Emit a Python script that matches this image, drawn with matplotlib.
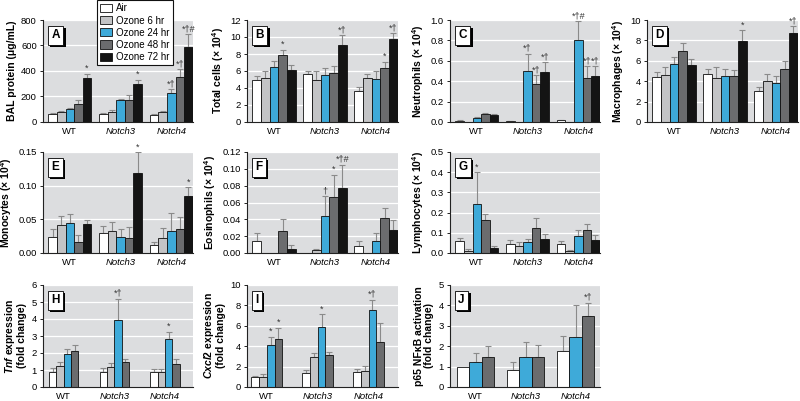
import numpy as np
import matplotlib
matplotlib.use('Agg')
import matplotlib.pyplot as plt
from matplotlib import font_manager
from matplotlib import patheffects
from matplotlib.patches import Patch

# condensed font if available
main_font = 'Liberation Sans'
try:
    font_manager.findfont('Liberation Sans Narrow', fallback_to_default=False)
    main_font = 'Liberation Sans Narrow'
except Exception:
    pass
narrow = main_font == 'Liberation Sans Narrow'

plt.rcParams['font.family'] = [main_font, 'DejaVu Sans']
plt.rcParams['mathtext.fontset'] = 'custom'
plt.rcParams['mathtext.it'] = main_font + ':italic:bold'
plt.rcParams['mathtext.rm'] = main_font + ':bold'

groups = ['WT', 'Notch3', 'Notch4']
series = ['Air', 'Ozone 6 hr', 'Ozone 24 hr', 'Ozone 48 hr', 'Ozone 72 hr']
colors = ['#ffffff', '#c3c4c6', '#3eaad9', '#6b6c6e', '#141414']

# panel A - BAL protein
bal_mean = [[65, 78, 105, 145, 345], [65, 80, 170, 175, 300], [55, 78, 228, 355, 588]]
bal_err = [[7, 6, 7, 25, 33], [7, 15, 10, 35, 30], [5, 7, 27, 60, 104]]
bal_marks = [(0, 4, '*'), (1, 4, '*'), (2, 2, '*†'), (2, 3, '*†'), (2, 4, '*†#')]

# panel B - total cells
cells_mean = [[4.9, 5.2, 6.45, 7.9, 6.1], [5.6, 4.9, 5.5, 5.8, 9.0], [3.7, 5.2, 5.0, 6.3, 9.8]]
cells_err = [[0.5, 0.8, 0.75, 0.6, 0.6], [0.4, 1.1, 0.8, 0.8, 1.2], [0.4, 0.5, 1.0, 0.8, 0.7]]
cells_marks = [(0, 3, '*'), (1, 4, '*†'), (2, 3, '*'), (2, 4, '*†')]

# panel C - neutrophils
neut_mean = [[0.01, 0, 0.04, 0.075, 0.07], [0.005, 0, 0.50, 0.37, 0.49], [0.015, 0, 0.80, 0.43, 0.45]]
neut_err = [[0.005, 0, 0.008, 0.012, 0.01], [0.003, 0, 0.17, 0.09, 0.10], [0.004, 0, 0.19, 0.12, 0.10]]
neut_marks = [(1, 2, '*†'), (1, 3, '*†'), (1, 4, '*†'), (2, 2, '*†#'), (2, 3, '*†'), (2, 4, '*†')]

# panel D - macrophages
mac_mean = [[4.4, 4.6, 5.7, 7.0, 5.6], [4.7, 4.3, 4.5, 4.5, 7.9], [3.05, 4.0, 3.8, 5.2, 8.7]]
mac_err = [[0.5, 0.8, 0.7, 0.7, 0.6], [0.5, 1.1, 0.7, 0.6, 1.1], [0.35, 0.7, 0.7, 0.8, 0.7]]
mac_marks = [(1, 4, '*'), (2, 4, '*†')]

# panel E - monocytes
mono_mean = [[0.024, 0.041, 0.044, 0.017, 0.043], [0.030, 0.033, 0.024, 0.023, 0.119], [0.012, 0.023, 0.033, 0.035, 0.084]]
mono_err = [[0.012, 0.014, 0.014, 0.010, 0.006], [0.010, 0.013, 0.011, 0.015, 0.031], [0.005, 0.014, 0.027, 0.018, 0.014]]
mono_marks = [(1, 4, '*'), (2, 4, '*')]

# panel F - eosinophils
eos_mean = [[0.014, 0, 0, 0.0265, 0.005], [0, 0.003, 0.044, 0.0665, 0.077], [0.008, 0, 0.014, 0.0415, 0.0275]]
eos_err = [[0.010, 0, 0, 0.0135, 0.004], [0, 0.002, 0.024, 0.0265, 0.028], [0.006, 0, 0.010, 0.0115, 0.012]]
eos_marks = [(1, 2, '†'), (1, 3, '*'), (1, 4, '*†#')]

# panel G - lymphocytes
lymph_mean = [[0.058, 0.008, 0.244, 0.162, 0.023], [0.046, 0.036, 0.053, 0.122, 0.068], [0.045, 0.012, 0.086, 0.112, 0.065]]
lymph_err = [[0.018, 0.010, 0.156, 0.033, 0.010], [0.017, 0.018, 0.016, 0.053, 0.024], [0.014, 0.004, 0.026, 0.033, 0.025]]
lymph_marks = [(0, 2, '*')]

# panel H - Tnf (Air, 6, 24, 48 hr)
tnf_mean = [[0.91, 1.23, 1.94, 2.14], [0.91, 1.19, 3.92, 1.45], [0.87, 0.89, 2.83, 1.35]]
tnf_err = [[0.19, 0.26, 0.30, 0.36], [0.19, 0.20, 1.28, 0.19], [0.16, 0.18, 0.42, 0.29]]
tnf_marks = [(1, 2, '*†'), (2, 2, '*')]

# panel I - Cxcl2 (Air, 6, 24, 48 hr)
cxcl_mean = [[0.98, 1.0, 4.14, 4.7], [1.4, 2.9, 5.9, 3.16], [1.5, 1.56, 7.56, 4.46]]
cxcl_err = [[0.12, 0.27, 0.81, 1.1], [0.3, 0.45, 1.23, 0.29], [0.26, 0.54, 1.01, 1.84]]
cxcl_marks = [(0, 2, '*'), (0, 3, '*'), (1, 2, '*'), (2, 2, '*†')]

# panel J - p65 NFkB (Air, 24, 48 hr)
p65_mean = [[1.0, 1.25, 1.49], [0.85, 1.48, 1.46], [1.78, 2.44, 3.5]]
p65_err = [[0, 0.42, 0.51], [0.40, 0.75, 0.59], [0.74, 1.56, 0.64]]
p65_marks = [(2, 2, '*†')]

W, H = 800, 401
fig = plt.figure(figsize=(W / 100, H / 100), dpi=100)

cols = [(43, 193), (247, 398), (450, 600), (647, 798)]
rows = [(20, 122), (152, 253), (285, 387)]

tick_fs = 7.5 if narrow else 6.8
lab_fs = 8.5 if narrow else 7.5
e4 = ' (× 10$^{4}$)'


def make_ax(c, r):
    x0, x1 = cols[c]
    y0, y1 = rows[r]
    return fig.add_axes([x0 / W, 1 - y1 / H, (x1 - x0) / W, (y1 - y0) / H])


def panel(ax, letter, means, errs, marks, ser_idx, ylim, yticks, ytl, ylabel, width, xlim):
    ax.set_facecolor('#dcdddf')
    for yt in yticks[1:]:
        ax.axhline(yt, color='white', lw=0.9, zorder=0)
    n = len(ser_idx)
    x = np.arange(3)
    tops = {}
    for k, s in enumerate(ser_idx):
        off = (k - (n - 1) / 2) * width
        for g in range(3):
            m, e = means[g][k], errs[g][k]
            if m == 0:
                continue
            ax.bar(x[g] + off, m, width, color=colors[s], edgecolor='#111111', lw=0.6, zorder=2)
            if e > 0:
                ax.errorbar(x[g] + off, m, yerr=[[0], [e]], fmt='none', ecolor='#8a8a8a',
                            elinewidth=0.8, capsize=2.2, capthick=0.8, zorder=1)
            tops[(g, k)] = (x[g] + off, m + e)
    for g, k, t in marks:
        xx, yy = tops[(g, k)]
        ax.annotate(t, (xx, yy), xytext=(0, 0.5), textcoords='offset points', ha='center',
                    va='bottom', fontsize=6.5, color='#333333', annotation_clip=False)
    ax.set_ylim(*ylim)
    ax.set_xlim(*xlim)
    ax.set_yticks(yticks)
    ax.set_yticklabels(ytl)
    ax.set_xticks(x)
    ax.set_xticklabels(groups)
    for lab in ax.get_xticklabels()[1:]:
        lab.set_fontstyle('italic')
    ax.tick_params(axis='x', length=0, labelsize=tick_fs, pad=3.5)
    ax.tick_params(axis='y', length=2.5, width=0.6, labelsize=tick_fs, pad=2)
    for sp in ['top', 'right']:
        ax.spines[sp].set_visible(False)
    for sp in ['left', 'bottom']:
        ax.spines[sp].set_linewidth(0.8)
        ax.spines[sp].set_color('#222222')
    ax.set_ylabel(ylabel, fontsize=lab_fs, fontweight='bold', labelpad=3, linespacing=1.0)
    # panel letter box with drop shadow
    t = ax.text(0.055, 0.91, letter, transform=ax.transAxes, fontsize=8.5, fontweight='bold',
                va='top', ha='left', zorder=5,
                bbox=dict(boxstyle='square,pad=0.3', fc='white', ec='black', lw=0.6))
    t.get_bbox_patch().set_path_effects([
        patheffects.SimplePatchShadow(offset=(1.6, -1.6), shadow_rgbFace='black', alpha=1),
        patheffects.Normal()])


five = [0, 1, 2, 3, 4]
xl5 = (-0.53, 2.43)

panel(make_ax(0, 0), 'A', bal_mean, bal_err, bal_marks, five, (0, 800), [0, 200, 400, 600, 800],
      ['0', '200', '400', '600', '800'], 'BAL protein (μg/mL)', 0.17, xl5)
panel(make_ax(1, 0), 'B', cells_mean, cells_err, cells_marks, five, (0, 12), [0, 2, 4, 6, 8, 10, 12],
      ['0', '2', '4', '6', '8', '10', '12'], 'Total cells' + e4, 0.17, xl5)
panel(make_ax(2, 0), 'C', neut_mean, neut_err, neut_marks, five, (0, 1.0), [0, 0.2, 0.4, 0.6, 0.8, 1.0],
      ['0.0', '0.2', '0.4', '0.6', '0.8', '1.0'], 'Neutrophils' + e4, 0.17, xl5)
panel(make_ax(3, 0), 'D', mac_mean, mac_err, mac_marks, five, (0, 10), [0, 2, 4, 6, 8, 10],
      ['0', '2', '4', '6', '8', '10'], 'Macrophages' + e4, 0.17, xl5)
panel(make_ax(0, 1), 'E', mono_mean, mono_err, mono_marks, five, (0, 0.15), [0, 0.05, 0.10, 0.15],
      ['0.00', '0.05', '0.10', '0.15'], 'Monocytes' + e4, 0.17, xl5)
panel(make_ax(1, 1), 'F', eos_mean, eos_err, eos_marks, five, (0, 0.12), [0, 0.02, 0.04, 0.06, 0.08, 0.10, 0.12],
      ['0.00', '0.02', '0.04', '0.06', '0.08', '0.10', '0.12'], 'Eosinophils' + e4, 0.17, xl5)
panel(make_ax(2, 1), 'G', lymph_mean, lymph_err, lymph_marks, five, (0, 0.5), [0, 0.1, 0.2, 0.3, 0.4, 0.5],
      ['0.0', '0.1', '0.2', '0.3', '0.4', '0.5'], 'Lymphocytes' + e4, 0.17, xl5)
panel(make_ax(0, 2), 'H', tnf_mean, tnf_err, tnf_marks, [0, 1, 2, 3], (0, 6), [0, 1, 2, 3, 4, 5, 6],
      ['0', '1', '2', '3', '4', '5', '6'], '$Tnf$ expression\n(fold change)', 0.145, (-0.41, 2.55))
panel(make_ax(1, 2), 'I', cxcl_mean, cxcl_err, cxcl_marks, [0, 1, 2, 3], (0, 10), [0, 2, 4, 6, 8, 10],
      ['0', '2', '4', '6', '8', '10'], '$Cxcl2$ expression\n(fold change)', 0.153, (-0.39, 2.58))
panel(make_ax(2, 2), 'J', p65_mean, p65_err, p65_marks, [0, 2, 3], (0, 5), [0, 1, 2, 3, 4, 5],
      ['0', '1', '2', '3', '4', '5'], 'p65 NFκB activation\n(fold change)', 0.25, (-0.51, 2.49))

handles = [Patch(facecolor=colors[i], edgecolor='#111111', lw=0.6, label=series[i]) for i in range(5)]
leg = fig.legend(handles=handles, loc='upper left', bbox_to_anchor=(97 / W, 1.0),
                 fontsize=7.5 if narrow else 7, handlelength=1.2, handleheight=0.9,
                 labelspacing=0.22, borderpad=0.35, handletextpad=0.45, fancybox=False,
                 framealpha=1, edgecolor='#111111', borderaxespad=0)
leg.get_frame().set_linewidth(0.8)

fig.savefig('out.png', dpi=100)
